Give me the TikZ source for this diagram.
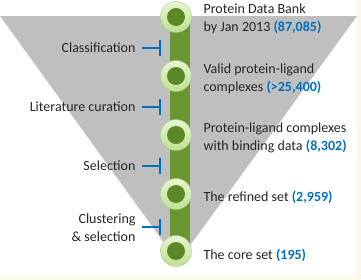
\documentclass[tikz,border=0pt]{standalone}
\usepackage{fontspec}
\setmainfont{Carlito}
\usepackage{tikz}

\definecolor{funnelgray}{RGB}{191,191,191}
\definecolor{barolive}{RGB}{106,150,50}
\definecolor{ringlight}{RGB}{230,246,210}
\definecolor{ringdark}{RGB}{190,224,146}
\definecolor{coregreen}{RGB}{92,136,40}
\definecolor{numblue}{RGB}{0,112,192}
\definecolor{paper}{RGB}{255,248,225}

\tikzset{
  ring/.style={circle, minimum size=31pt, inner sep=0pt,
    top color=ringlight, bottom color=ringdark, draw=ringdark!90!black, line width=0.4pt,
    path picture={\fill[coregreen] (path picture bounding box.center) circle (9pt);}},
  stage/.style={anchor=west, align=left, text=black!85, font=\fontsize{14}{18}\selectfont},
  step label/.style={anchor=east, align=right, text=black!85, font=\fontsize{14}{18}\selectfont},
  tick/.style={numblue, line width=1.6pt},
}
\newcommand{\num}[1]{\textcolor{numblue}{\textbf{#1}}}

\begin{document}
\begin{tikzpicture}[x=1pt, y=-1pt]
  \useasboundingbox (0,0) rectangle (361,279);
  \fill[paper] (0,0) rectangle (361,279);
  \fill[white] (0,0) rectangle (357,277);

  % funnel
  \fill[funnelgray] (0,16) -- (357,16) -- (178,262) -- cycle;

  % stages along the bar
  \coordinate (c1) at (176,17);
  \coordinate (c5) at (176,251);
  \fill[barolive] ([xshift=-6pt]c1) rectangle ([xshift=14pt]c5);
  \node[ring] (s1) at (176,17) {};
  \node[ring] (s2) at (176,76) {};
  \node[ring] (s3) at (176,135) {};
  \node[ring] (s4) at (176,194) {};
  \node[ring] (s5) at (176,251) {};

  \node[stage] (t1) at (200,19) {Protein Data Bank\\by Jan 2013 \num{(87,085)}};
  \node[stage] (t2) at (200,79) {Valid protein-ligand\\complexes \num{(>25,400)}};
  \node[stage] (t3) at (200,138) {Protein-ligand complexes\\with binding data \num{(8,302)}};
  \node[stage] (t4) at (200,197) {The refined set \num{(2,959)}};
  \node[stage] (t5) at (200,255) {The core set \num{(195)}};

  % filtering steps
  \node[step label] (f1) at (139,48) {Classification};
  \node[step label] (f2) at (139,107) {Literature curation};
  \node[step label] (f3) at (139,166) {Selection};
  \node[step label] (f4) at (139,228) {Clustering\\\& selection};
  \foreach \f/\y in {f1/48, f2/107, f3/166, f4/227}{
    \coordinate (e) at (160,\y);
    \draw[tick] ([xshift=3pt]\f.east |- e) -- (e);
    \draw[tick] ([yshift=-8pt]e) -- ([yshift=8pt]e);
  }
\end{tikzpicture}
\end{document}
